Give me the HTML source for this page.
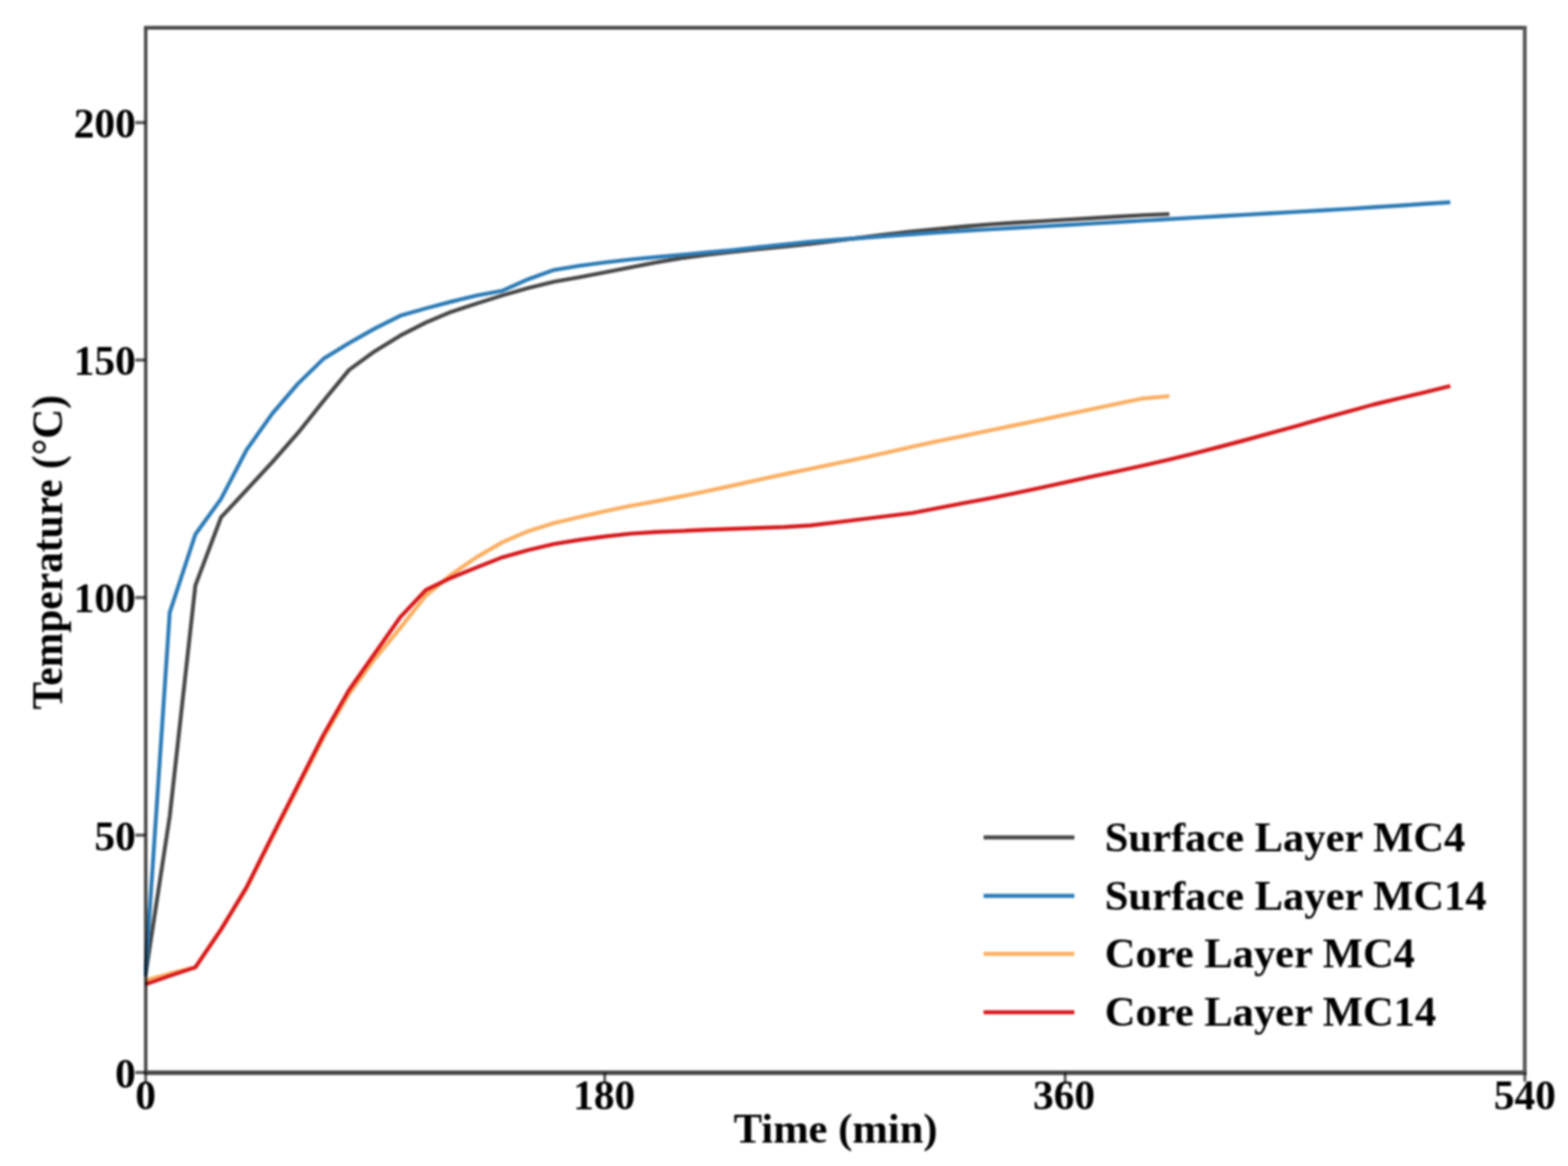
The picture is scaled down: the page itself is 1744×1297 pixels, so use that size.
<!DOCTYPE html>
<html><head><meta charset="utf-8"><title>Temperature vs Time</title>
<style>
html,body{margin:0;padding:0;background:#fff;}
svg{display:block;filter:blur(0.9px);}
text{font-family:"Liberation Serif","DejaVu Serif",serif;font-weight:bold;fill:#000;}
.tk{font-size:46px;}
.lg{font-size:47.3px;}
.ax{font-size:47.4px;}
.ay{font-size:49px;}
.c{fill:none;stroke-width:4.4;stroke-linejoin:round;stroke-linecap:butt;}
</style></head>
<body>
<svg width="1744" height="1297" viewBox="0 0 1744 1297">
<defs><clipPath id="plot"><rect x="160" y="30" width="1536" height="1163"/></clipPath></defs>
<rect x="0" y="0" width="1744" height="1297" fill="#ffffff"/>
<!-- ticks -->
<g stroke="#5a5a5a" stroke-width="3.6">
<line x1="150.5" y1="136.4" x2="162" y2="136.4"/>
<line x1="150.5" y1="400.5" x2="162" y2="400.5"/>
<line x1="150.5" y1="664.7" x2="162" y2="664.7"/>
<line x1="150.5" y1="929" x2="162" y2="929"/>
<line x1="150.5" y1="1193" x2="162" y2="1193"/>
</g>
<g stroke="#5a5a5a" stroke-width="3.2">
<line x1="162" y1="1193" x2="162" y2="1203.5"/>
<line x1="672.6" y1="1193" x2="672.6" y2="1203.5"/>
<line x1="1184.7" y1="1193" x2="1184.7" y2="1203.5"/>
<line x1="1696" y1="1193" x2="1696" y2="1203.5"/>
</g>
<!-- curves -->
<g clip-path="url(#plot)">
<polyline class="c" stroke="#474747" points="161.6,1086.0 188.8,908.0 217.3,651.2 245.8,575.6 274.2,545.0 302.7,514.3 331.2,481.8 359.7,446.2 388.2,411.5 416.7,390.8 445.2,373.3 473.7,358.8 502.1,346.8 530.6,337.5 559.1,328.5 587.6,320.3 616.1,313.3 644.6,308.3 673.1,302.8 701.5,297.4 730.0,291.8 758.5,287.0 787.0,283.4 815.5,280.0 844.0,277.0 872.5,274.2 901.0,271.3 929.5,267.8 957.9,264.2 986.4,260.6 1014.9,257.4 1043.4,254.6 1071.9,252.0 1100.4,249.6 1128.9,247.8 1157.3,246.1 1185.8,244.4 1214.3,242.7 1242.8,241.0 1271.3,239.4 1300.6,238.1"/>
<polyline class="c" stroke="#2c7bb6" points="161.6,1086.0 188.8,681.2 217.3,594.4 245.8,555.0 274.2,500.5 302.7,460.3 331.2,427.0 359.7,399.2 388.2,381.7 416.7,365.5 445.2,351.2 473.7,343.0 502.1,335.5 530.6,328.7 559.1,323.3 587.6,310.6 616.1,300.3 644.6,295.6 673.1,291.9 701.5,288.6 730.0,286.0 758.5,283.4 787.0,280.8 815.5,278.1 844.0,275.0 872.5,272.0 901.0,268.9 929.5,266.8 957.9,264.7 986.4,262.6 1014.9,260.5 1043.4,258.6 1071.9,256.8 1100.4,255.1 1128.9,253.5 1157.3,251.9 1185.8,250.2 1214.3,248.6 1242.8,247.0 1271.3,245.4 1299.8,243.8 1328.3,242.1 1356.8,240.5 1385.2,238.9 1413.7,237.2 1442.2,235.6 1470.7,234.0 1499.2,232.4 1527.7,230.5 1556.2,228.7 1584.7,226.8 1613.1,225.0"/>
<polyline class="c" stroke="#fdae61" points="161.6,1090.5 188.8,1083.0 217.3,1076.0 245.8,1034.0 274.2,988.0 302.7,931.5 331.2,876.0 359.7,820.5 388.2,772.0 416.7,733.0 445.2,698.5 473.7,662.5 502.1,639.0 530.6,619.5 559.1,603.0 587.6,590.8 616.1,581.8 644.6,575.2 673.1,568.7 701.5,562.7 730.0,557.5 758.5,552.0 787.0,546.2 815.5,540.0 844.0,533.6 872.5,527.5 901.0,521.6 929.5,515.6 957.9,509.7 986.4,503.3 1014.9,496.9 1043.4,490.7 1071.9,484.8 1100.4,478.9 1128.9,473.0 1157.3,467.1 1185.8,461.1 1214.3,455.1 1242.8,449.1 1271.3,443.2 1300.6,440.6"/>
<polyline class="c" stroke="#d7191c" points="161.6,1095.0 188.8,1085.5 217.3,1076.0 245.8,1034.0 274.2,987.0 302.7,930.0 331.2,873.8 359.7,817.5 388.2,767.5 416.7,727.0 445.2,686.5 473.7,656.3 502.1,642.6 530.6,631.0 559.1,619.8 587.6,611.8 616.1,605.2 644.6,600.5 673.1,596.8 701.5,593.6 730.0,591.8 758.5,590.6 787.0,589.3 815.5,588.2 844.0,587.2 872.5,586.2 901.0,584.5 929.5,581.1 957.9,577.6 986.4,574.1 1014.9,570.6 1043.4,565.2 1071.9,559.7 1100.4,554.3 1128.9,548.7 1157.3,542.6 1185.8,536.4 1214.3,530.2 1242.8,524.1 1271.3,517.9 1299.8,511.4 1328.3,504.4 1356.8,497.0 1385.2,489.5 1413.7,481.6 1442.2,473.8 1470.7,465.7 1499.2,457.8 1527.7,450.0 1556.2,443.1 1584.7,436.3 1613.1,429.4"/>
</g>
<!-- frame -->
<g stroke="#4a4a4a" fill="none" style="mix-blend-mode:multiply">
<line x1="160.2" y1="30.9" x2="1698.1" y2="30.9" stroke-width="4.2"/>
<line x1="160.2" y1="1193.2" x2="1698.1" y2="1193.2" stroke-width="5" stroke="#444"/>
<line x1="162.1" y1="29" x2="162.1" y2="1195" stroke-width="3.9"/>
<line x1="1695.9" y1="29" x2="1695.9" y2="1195" stroke-width="4.3" stroke="#585858"/>
</g>
<!-- y tick labels -->
<text class="tk" text-anchor="end" transform="translate(151 152.8) scale(1 1.0)">200</text>
<text class="tk" text-anchor="end" transform="translate(151 417.1) scale(1 1.0)">150</text>
<text class="tk" text-anchor="end" transform="translate(151 681.3) scale(1 1.0)">100</text>
<text class="tk" text-anchor="end" transform="translate(151 945.6) scale(1 1.0)">50</text>
<text class="tk" text-anchor="end" transform="translate(151 1209.6) scale(1 1.0)">0</text>
<!-- x tick labels -->
<text class="tk" text-anchor="middle" transform="translate(162 1233.9) scale(1 1.0)">0</text>
<text class="tk" text-anchor="middle" transform="translate(672.1 1233.9) scale(1 1.0)">180</text>
<text class="tk" text-anchor="middle" transform="translate(1183.5 1233.9) scale(1 1.0)">360</text>
<text class="tk" text-anchor="middle" transform="translate(1696 1233.9) scale(1 1.0)">540</text>
<!-- axis titles -->
<text class="ax" text-anchor="middle" transform="translate(929.4 1270.5) scale(1 1.0)">Time (min)</text>
<text class="ay" text-anchor="middle" transform="translate(69 614.3) rotate(-90) scale(0.94 1)">Temperature (°C)</text>
<!-- legend -->
<g stroke-width="4.4">
<line x1="1094" y1="931.5" x2="1195" y2="931.5" stroke="#474747"/>
<line x1="1094" y1="996.5" x2="1195" y2="996.5" stroke="#2c7bb6"/>
<line x1="1094" y1="1061" x2="1195" y2="1061" stroke="#fdae61"/>
<line x1="1094" y1="1126" x2="1195" y2="1126" stroke="#d7191c"/>
</g>
<text class="lg" text-anchor="start" transform="translate(1228.8 947.1) scale(1 0.97)">Surface Layer MC4</text>
<text class="lg" text-anchor="start" transform="translate(1228.8 1011.9) scale(1 0.97)">Surface Layer MC14</text>
<text class="lg" text-anchor="start" transform="translate(1228.8 1076.4) scale(1 0.97)">Core Layer MC4</text>
<text class="lg" text-anchor="start" transform="translate(1228.8 1141.4) scale(1 0.97)">Core Layer MC14</text>
</svg>
</body></html>
